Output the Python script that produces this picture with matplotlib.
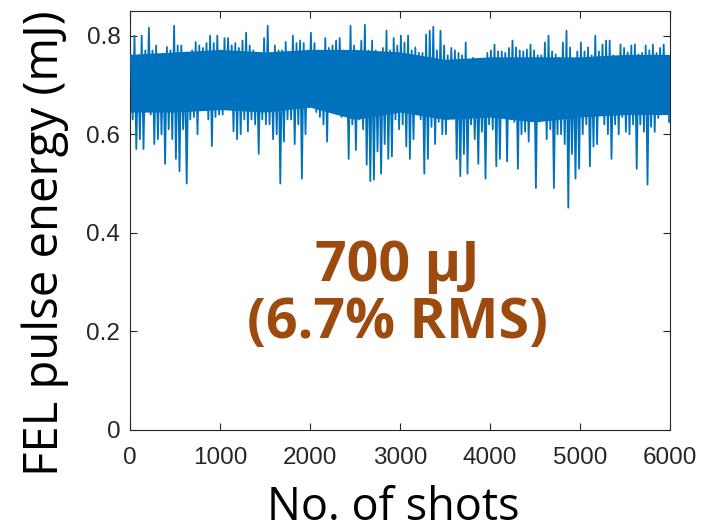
import numpy as np
import matplotlib
matplotlib.use("Agg")
import matplotlib.pyplot as plt

# Shot-to-shot FEL pulse energy, summarised per 40-shot window:
# the highest and the lowest pulse energy (mJ) seen in each window.
window_shots = 40
energy_hi = [
    0.760, 0.800, 0.760, 0.800, 0.770, 0.816, 0.770, 0.780, 0.760, 0.760,
    0.777, 0.770, 0.820, 0.780, 0.780, 0.740, 0.765, 0.770, 0.787, 0.780,
    0.775, 0.785, 0.800, 0.785, 0.800,
    0.770, 0.795, 0.795, 0.780, 0.785, 0.775, 0.790, 0.806, 0.780, 0.770,
    0.750, 0.765, 0.795, 0.820, 0.760, 0.780, 0.770, 0.770, 0.787, 0.760,
    0.800, 0.785, 0.790, 0.785, 0.770,
    0.806, 0.785, 0.770, 0.765, 0.795, 0.775, 0.780, 0.790, 0.795, 0.770,
    0.765, 0.820, 0.780, 0.765, 0.790, 0.822, 0.770, 0.790, 0.770, 0.760,
    0.775, 0.810, 0.770, 0.795, 0.780,
    0.800, 0.786, 0.800, 0.770, 0.776, 0.765, 0.765, 0.802, 0.810, 0.818,
    0.770, 0.810, 0.780, 0.760, 0.775, 0.770, 0.765, 0.760, 0.786, 0.740,
    0.755, 0.740, 0.750, 0.750, 0.765,
    0.770, 0.782, 0.768, 0.768, 0.765, 0.775, 0.790, 0.776, 0.770, 0.768,
    0.772, 0.782, 0.770, 0.760, 0.760, 0.786, 0.800, 0.768, 0.762, 0.755,
    0.786, 0.810, 0.776, 0.745, 0.768,
    0.786, 0.768, 0.776, 0.760, 0.800, 0.768, 0.782, 0.790, 0.790, 0.760,
    0.756, 0.782, 0.775, 0.766, 0.780, 0.782, 0.762, 0.765, 0.780, 0.770,
    0.782, 0.765, 0.775, 0.782, 0.756,
]
energy_lo = [
    0.630, 0.570, 0.590, 0.570, 0.650, 0.640, 0.580, 0.590, 0.600, 0.540,
    0.610, 0.590, 0.550, 0.525, 0.610, 0.500, 0.630, 0.635, 0.600, 0.660,
    0.650, 0.630, 0.576, 0.635, 0.640,
    0.640, 0.655, 0.670, 0.606, 0.590, 0.600, 0.630, 0.606, 0.630, 0.620,
    0.560, 0.630, 0.620, 0.620, 0.590, 0.600, 0.500, 0.585, 0.630, 0.630,
    0.580, 0.620, 0.510, 0.600, 0.655,
    0.655, 0.645, 0.635, 0.620, 0.585, 0.645, 0.660, 0.645, 0.635, 0.655,
    0.550, 0.620, 0.568, 0.630, 0.610, 0.538, 0.505, 0.508, 0.565, 0.520,
    0.580, 0.550, 0.555, 0.630, 0.610,
    0.620, 0.575, 0.550, 0.590, 0.650, 0.630, 0.520, 0.550, 0.615, 0.580,
    0.625, 0.600, 0.600, 0.645, 0.650, 0.550, 0.515, 0.560, 0.520, 0.620,
    0.590, 0.540, 0.605, 0.510, 0.620,
    0.610, 0.535, 0.550, 0.640, 0.545, 0.630, 0.625, 0.530, 0.600, 0.605,
    0.585, 0.635, 0.491, 0.630, 0.630, 0.590, 0.610, 0.491, 0.600, 0.600,
    0.580, 0.451, 0.560, 0.510, 0.530,
    0.600, 0.620, 0.535, 0.575, 0.580, 0.640, 0.620, 0.600, 0.550, 0.620,
    0.600, 0.635, 0.605, 0.600, 0.620, 0.530, 0.620, 0.605, 0.498, 0.615,
    0.605, 0.633, 0.640, 0.645, 0.625,
]

# Edges of the densely populated band, every 500 shots (mJ)
band_shots = [0, 500, 1000, 1500, 2000, 2500, 3000, 3500, 4000, 4500,
              5000, 5500, 6000]
band_top = [0.762, 0.767, 0.772, 0.767, 0.772, 0.772, 0.767, 0.752, 0.757,
            0.757, 0.757, 0.762, 0.762]
band_bottom = [0.645, 0.645, 0.650, 0.645, 0.655, 0.630, 0.645, 0.630,
               0.635, 0.625, 0.635, 0.640, 0.640]

x_ticks = [0, 1000, 2000, 3000, 4000, 5000, 6000]
y_ticks = [0, 0.2, 0.4, 0.6, 0.8]
y_tick_labels = ["0", "0.2", "0.4", "0.6", "0.8"]

mean_label = "700 μJ"
rms_label = "(6.7% RMS)"

# Rebuild the trace: each window contributes its maximum then its minimum
n_win = len(energy_hi)
win_start = np.arange(n_win) * window_shots
shots = np.column_stack([win_start + 10, win_start + 30]).ravel()
energy = np.column_stack([energy_hi, energy_lo]).ravel()

W, H = 701, 532
fig = plt.figure(figsize=(W / 100, H / 100), dpi=100)
ax = fig.add_axes([130 / W, 1 - 430 / H, 540 / W, 419 / H])

trace_color = "#0072BD"
ax.fill_between(band_shots, band_bottom, band_top, color=trace_color,
                lw=0, zorder=2)
ax.plot(shots, energy, color=trace_color, lw=1.3, zorder=3)

ax.set_xlim(0, 6000)
ax.set_ylim(0, 0.85)
ax.set_xticks(x_ticks)
ax.set_xticklabels([str(t) for t in x_ticks])
ax.set_yticks(y_ticks)
ax.set_yticklabels(y_tick_labels)

tick_font = ["Liberation Sans", "DejaVu Sans"]
for lab in ax.get_xticklabels() + ax.get_yticklabels():
    lab.set_family(tick_font)
    lab.set_fontsize(17.5)
    lab.set_color("#262626")

ax.tick_params(direction="in", top=True, right=True, length=5, width=0.8,
               color="#262626")
ax.tick_params(axis="x", pad=12)
ax.tick_params(axis="y", pad=7)
for sp in ax.spines.values():
    sp.set_color("#262626")
    sp.set_linewidth(0.8)

label_font = ["Open Sans", "DejaVu Sans"]
fig.text(393 / W, 1 - 520 / H, "No. of shots", family=label_font,
         fontsize=32.5, ha="center", va="baseline", color="black")
fig.text(45 / W, 1 - 243 / H, "FEL pulse energy (mJ)", family=label_font,
         fontsize=34, ha="center", va="center", rotation=90, color="black")

note_color = "#9C4A0D"
ax.text(2970, 0.331, mean_label, family=label_font, fontsize=40,
        fontweight="bold", color=note_color, ha="center", va="center")
ax.text(2970, 0.217, rms_label, family=label_font, fontsize=40,
        fontweight="bold", color=note_color, ha="center", va="center")

fig.savefig("out.png", dpi=100)
